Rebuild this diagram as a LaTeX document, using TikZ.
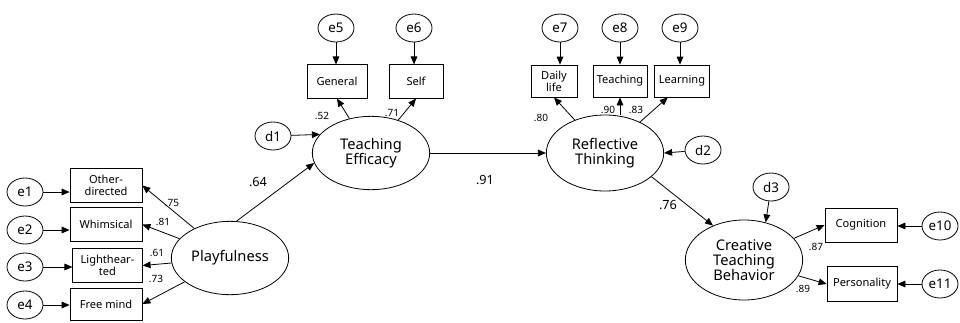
\documentclass[tikz,border=0pt]{standalone}
\usepackage{fontspec}
\setmainfont{Noto Sans}
\usetikzlibrary{arrows.meta,shapes.geometric}
\begin{document}
\begin{tikzpicture}[x=0.75pt, y=-0.75pt, line width=0.6pt,
  lat/.style={ellipse, draw, minimum width=88pt, minimum height=55pt, inner sep=0pt, align=center, font=\fontsize{11}{11.5}\selectfont},
  obs/.style={draw, minimum height=25pt, inner sep=1pt, align=center, font=\fontsize{8.3}{8.8}\selectfont},
  err/.style={ellipse, draw, minimum width=27pt, minimum height=21pt, inner sep=0pt, font=\fontsize{10}{12}\selectfont},
  coef/.style={inner sep=0pt, font=\fontsize{7.5}{9}\selectfont},
  bigcoef/.style={inner sep=0pt, font=\fontsize{9.5}{11}\selectfont},
  arr/.style={-{Triangle[length=6pt,width=5pt]}}]
\useasboundingbox (0,0) rectangle (960,322);
% latent variables
\node[lat] (play) at (230,258) {Playfulness};
\node[lat] (te) at (371,153) {Teaching\\Efficacy};
\node[lat, minimum height=57pt] (rt) at (605,153) {Reflective\\Thinking};
\node[lat, minimum height=60pt] (ctb) at (744,260) {Creative\\Teaching\\Behavior};
% indicators
\node[obs, minimum width=54pt, minimum height=26pt] (od) at (106,185.5) {Other-\\directed};
\node[obs, minimum width=54pt] (wh) at (106,224.5) {Whimsical};
\node[obs, minimum width=52pt, minimum height=26pt] (lh) at (107.5,265.5) {Lighthear-\\ted};
\node[obs, minimum width=54pt, minimum height=24pt] (fm) at (106,304) {Free mind};
\node[obs, minimum width=45pt] (gen) at (337,81.5) {General};
\node[obs, minimum width=40.5pt] (self) at (416,81.5) {Self};
\node[obs, minimum width=34.5pt, minimum height=24pt] (dl) at (554,81) {Daily\\life};
\node[obs, minimum width=40.5pt, minimum height=24pt] (teach) at (620,81) {Teaching};
\node[obs, minimum width=41pt, minimum height=24pt] (learn) at (682,81) {Learning};
\node[obs, minimum width=54pt, minimum height=25.5pt] (cog) at (861,225) {Cognition};
\node[obs, minimum width=52.5pt, minimum height=26pt] (pers) at (862,284) {Personality};
% errors and disturbances
\node[err] (e1) at (25,192) {e1};
\node[err] (e2) at (25,230) {e2};
\node[err] (e3) at (25,267) {e3};
\node[err] (e4) at (25,305) {e4};
\node[err] (e5) at (336,28) {e5};
\node[err] (e6) at (414,28) {e6};
\node[err] (e7) at (560,28) {e7};
\node[err] (e8) at (620,28) {e8};
\node[err] (e9) at (680,28) {e9};
\node[err] (e10) at (940,226) {e10};
\node[err] (e11) at (940,284) {e11};
\node[err] (d1) at (273,136) {d1};
\node[err] (d2) at (703,150) {d2};
\node[err] (d3) at (771,187) {d3};
% error arrows
\draw[arr] (e1) -- (e1 -| od.west);
\draw[arr] (e2) -- (e2 -| wh.west);
\draw[arr] (e3) -- (e3 -| lh.west);
\draw[arr] (e4) -- (e4 -| fm.west);
\draw[arr] (e5) -- (e5 |- gen.north);
\draw[arr] (e6) -- (e6 |- self.north);
\draw[arr] (e7) -- (e7 |- dl.north);
\draw[arr] (e8) -- (e8 |- teach.north);
\draw[arr] (e9) -- (e9 |- learn.north);
\draw[arr] (e10) -- (e10 -| cog.east);
\draw[arr] (e11) -- (e11 -| pers.east);
\draw[arr] (d1) -- (te.160);
\draw[arr] (d2) -- (rt.east);
\draw[arr] (d3) -- (ctb.60);
% loadings
\draw[arr] (play) -- (od.east);
\draw[arr] (play) -- (wh.east);
\draw[arr] (play) -- (lh.east);
\draw[arr] (play) -- (fm.east);
\draw[arr] (te) -- (gen.south);
\draw[arr] (te) -- (self.south);
\draw[arr] (rt) -- (dl.south);
\draw[arr] (teach.south |- rt.north) -- (teach.south);
\draw[arr] (rt) -- (learn.229);
\draw[arr] (ctb) -- (cog.west);
\draw[arr] (ctb) -- (pers.west);
% structural paths
\draw[arr] (play.80) -- (te.190);
\draw[arr] (te) -- (rt);
\draw[arr] (rt.-27) -- (ctb.132);
% coefficients
\node[coef] (c75) at (172,203) {.75};
\node[coef] (c81) at (163,222) {.81};
\node[coef] (c61) at (157,253) {.61};
\node[coef] (c73) at (156,279) {.73};
\node[coef] (c52) at (322,116) {.52};
\node[coef] (c71) at (392,113) {.71};
\node[coef] (c80) at (541,118) {.80};
\node[coef] (c90) at (608,110) {.90};
\node[coef] (c83) at (636,110) {.83};
\node[coef] (c87) at (816,247) {.87};
\node[coef] (c89) at (803,289) {.89};
\node[bigcoef] (c64) at (258,182) {.64};
\node[bigcoef] (c91) at (485,180) {.91};
\node[bigcoef] (c76) at (668,205) {.76};
\end{tikzpicture}
\end{document}
